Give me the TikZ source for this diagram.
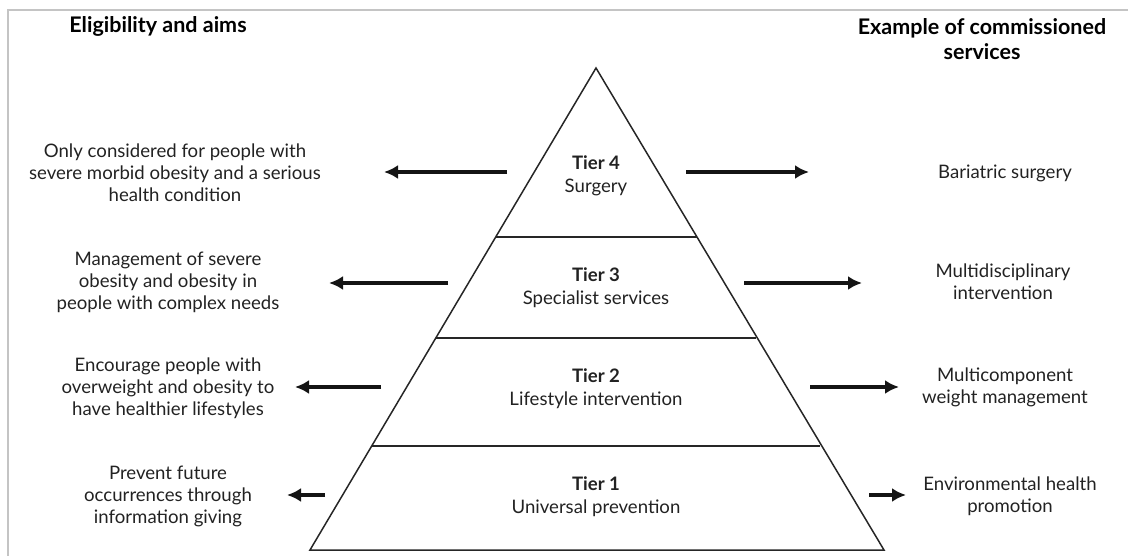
\documentclass[tikz,border=0pt]{standalone}
\usepackage{fontspec}
\setmainfont{Lato}
\usetikzlibrary{arrows.meta}
\definecolor{txt}{HTML}{222222}
\definecolor{frame}{HTML}{C4C4C4}
\tikzset{
  body/.style={align=center, text=txt, font=\fontsize{18.6}{22}\selectfont, inner sep=0pt},
  head/.style={align=center, text=black, font=\fontsize{21.5}{25}\selectfont\bfseries, inner sep=0pt},
  tier/.style={align=center, text=txt, font=\fontsize{18.6}{23}\selectfont, inner sep=0pt},
  arr/.style={line width=3.2pt, draw=black!92, -{Latex[length=14pt,width=14pt]}},
  pyr/.style={line width=1.5pt, draw=black!85},
}
\begin{document}
\begin{tikzpicture}[x=1pt,y=-1pt]
\useasboundingbox (0,0) rectangle (1128,556);
% frame
\draw[frame, line width=2pt] (7.5,556) -- (7.5,10.5) -- (1128,10.5);
% pyramid
\coordinate (apex) at (596,68);
\coordinate (bl) at (310,550);
\coordinate (br) at (884,550);
\draw[pyr, line join=miter] (apex) -- (bl) -- (br) -- cycle;
\draw[pyr] (496,237) -- (697,237);
\draw[pyr] (436,338) -- (756,338);
\draw[pyr] (372,446) -- (820,446);
% headers
\node[head] (hl) at (158,26) {Eligibility and aims};
\node[head] (hr) at (982,39) {Example of commissioned\\services};
% tier labels
\node[tier] (t4) at (596,176) {\textbf{Tier 4}\\Surgery};
\node[tier] (t3) at (596,287.5) {\textbf{Tier 3}\\Specialist services};
\node[tier] (t2) at (596,388.5) {\textbf{Tier 2}\\Lifestyle intervention};
\node[tier] (t1) at (596,496.5) {\textbf{Tier 1}\\Universal prevention};
% left texts
\node[body] (l4) at (175,173) {Only considered for people with\\severe morbid obesity and a serious\\health condition};
\node[body] (l3) at (168,282) {Management of severe\\obesity and obesity in\\people with complex needs};
\node[body] (l2) at (168,388) {Encourage people with\\overweight and obesity to\\have healthier lifestyles};
\node[body] (l1) at (168,496) {Prevent future\\occurrences through\\information giving};
% right texts
\node[body] (r4) at (1005,173) {Bariatric surgery};
\node[body] (r3) at (1003,282) {Multidisciplinary\\intervention};
\node[body] (r2) at (1005,387) {Multicomponent\\weight management};
\node[body] (r1) at (1010,496) {Environmental health\\promotion};
% arrow end points
\coordinate (a4l) at (507,172); \coordinate (b4l) at (384,172);
\coordinate (a3l) at (448,283); \coordinate (b3l) at (329,283);
\coordinate (a2l) at (381,387); \coordinate (b2l) at (295,387);
\coordinate (a1l) at (325,495); \coordinate (b1l) at (287,495);
\coordinate (a4r) at (686,172); \coordinate (b4r) at (809,172);
\coordinate (a3r) at (744,283); \coordinate (b3r) at (862,283);
\coordinate (a2r) at (810,387); \coordinate (b2r) at (899,387);
\coordinate (a1r) at (869,495); \coordinate (b1r) at (906,495);
\foreach \i in {1,2,3,4}{
  \draw[arr] (a\i l) -- (b\i l);
  \draw[arr] (a\i r) -- (b\i r);
}
\end{tikzpicture}
\end{document}
